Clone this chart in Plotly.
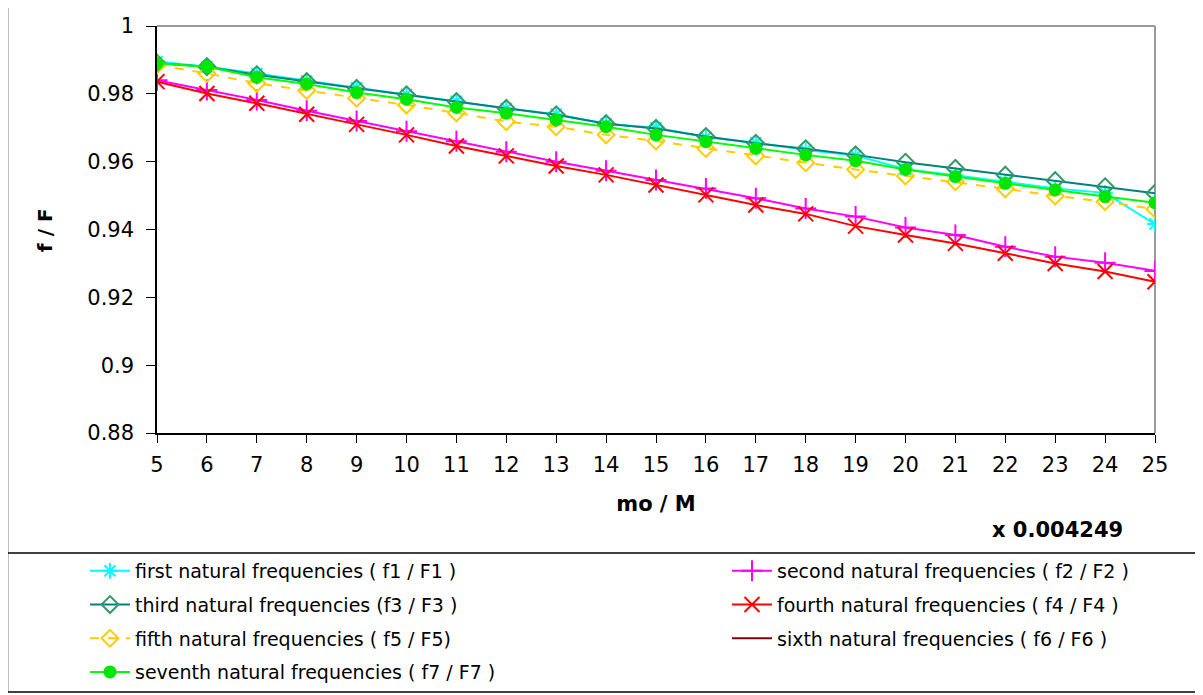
import plotly.graph_objects as go

# ─── Dados ────────────────────────────────────────────
mo_m = list(range(5, 26))

f1 = [0.9895, 0.9880, 0.9860, 0.9838, 0.9818, 0.9798, 0.9778, 0.9757, 0.9740, 0.9712, 0.9700,
      0.9672, 0.9656, 0.9634, 0.9618, 0.9578, 0.9560, 0.9541, 0.9521, 0.9508, 0.9416]
f2 = [0.9840, 0.9811, 0.9782, 0.9750, 0.9720, 0.9690, 0.9660, 0.9629, 0.9600, 0.9573, 0.9546,
      0.9521, 0.9492, 0.9462, 0.9438, 0.9406, 0.9384, 0.9349, 0.9320, 0.9302, 0.9278]
f3 = [0.9890, 0.9880, 0.9856, 0.9836, 0.9816, 0.9797, 0.9777, 0.9757, 0.9738, 0.9712, 0.9698,
      0.9674, 0.9654, 0.9638, 0.9620, 0.9598, 0.9580, 0.9560, 0.9544, 0.9526, 0.9507]
f4 = [0.9836, 0.9801, 0.9772, 0.9740, 0.9710, 0.9679, 0.9646, 0.9617, 0.9587, 0.9561, 0.9531,
      0.9502, 0.9472, 0.9446, 0.9410, 0.9384, 0.9359, 0.9330, 0.9300, 0.9276, 0.9246]
f5 = [0.9885, 0.9860, 0.9831, 0.9810, 0.9787, 0.9767, 0.9744, 0.9718, 0.9703, 0.9679, 0.9661,
      0.9639, 0.9617, 0.9597, 0.9577, 0.9558, 0.9541, 0.9520, 0.9499, 0.9482, 0.9460]
f6 = [None] * 21  # não aparece no gráfico, só na legenda
f7 = [0.9890, 0.9880, 0.9849, 0.9829, 0.9804, 0.9784, 0.9760, 0.9743, 0.9723, 0.9703, 0.9679,
      0.9659, 0.9639, 0.9620, 0.9603, 0.9577, 0.9556, 0.9536, 0.9517, 0.9497, 0.9479]

y_ticks = [0.88, 0.9, 0.92, 0.94, 0.96, 0.98, 1]

FONT = "DejaVu Sans"

# (nome, dados, cor linha, dash, símbolo, cor marcador, tamanho, legenda)
series = [
    ("first natural frequencies ( f1 / F1 )", f1, "#00FFFF", "solid", "asterisk-open", "#00FFFF", 13, "legend"),
    ("second natural frequencies ( f2 / F2 )", f2, "#FF00FF", "solid", "cross-thin-open", "#FF00FF", 15, "legend2"),
    ("third natural frequencies (f3 / F3 )", f3, "#008080", "solid", "diamond-open", "#339966", 13, "legend"),
    ("fourth natural frequencies ( f4 / F4 )", f4, "#FF0000", "solid", "x-thin-open", "#FF0000", 15, "legend2"),
    ("fifth natural frequencies ( f5 / F5)", f5, "#FFCC00", "dash", "diamond-open", "#FFCC00", 13, "legend"),
    ("sixth natural frequencies ( f6 / F6 )", f6, "#800000", "solid", None, "#800000", 1, "legend2"),
    ("seventh natural frequencies ( f7 / F7 )", f7, "#00FF00", "solid", "circle", "#00E600", 13, "legend"),
]

fig = go.Figure()
for i, (nome, ys, cor, dash, simb, cor_m, tam, leg) in enumerate(series):
    xs = mo_m[: len(ys)]
    if simb is None:
        fig.add_trace(go.Scatter(
            x=xs, y=ys, mode="lines", name=nome, legend=leg, legendgroup=f"g{i}",
            line=dict(color=cor, width=2, dash=dash),
        ))
        continue
    aberto = simb.endswith("open")
    fig.add_trace(go.Scatter(
        x=xs, y=ys, mode="lines+markers", name=nome, legend=leg, legendgroup=f"g{i}",
        line=dict(color=cor, width=2, dash=dash),
        marker=dict(symbol=simb, size=tam, color=cor_m,
                    line=dict(color=cor_m, width=2 if aberto else 0)),
    ))

# A página tem margem de 8 px; a figura ocupa o resto da janela
OFF = 8
FW, FH = 1203 - OFF, 695 - OFF
# área do gráfico em pixels da figura
L, T, W, H = 157 - OFF, 26 - OFF, 998, 407


def px(x):  # x da tela -> paper
    return (x - OFF - L) / W


def py(y):  # y da tela -> paper
    return (T + H - (y - OFF)) / H


def cx(x):  # x da tela -> container
    return (x - OFF) / FW


def cy(y):  # y da tela -> container
    return 1 - (y - OFF) / FH


linha = dict(color="black", width=1.5)
shapes = [
    dict(type="line", xref="paper", yref="paper", x0=px(7.5), x1=px(7.5), y0=py(6), y1=py(692), line=linha),
    dict(type="line", xref="paper", yref="paper", x0=px(1199.5), x1=px(1199.5), y0=py(6), y1=py(692), line=linha),
    dict(type="line", xref="paper", yref="paper", x0=px(7), x1=px(1203), y0=py(553), y1=py(553), line=linha),
    dict(type="line", xref="paper", yref="paper", x0=px(7), x1=px(1200), y0=py(692), y1=py(692), line=linha),
    dict(type="line", xref="paper", yref="paper", x0=0, x1=1, y0=1, y1=1, layer="below",
         line=dict(color="#999999", width=2)),
    dict(type="line", xref="paper", yref="paper", x0=1, x1=1, y0=0, y1=1, layer="below",
         line=dict(color="#999999", width=2)),
]

leg_base = dict(
    xref="container", yref="container", xanchor="left", yanchor="top",
    bgcolor="rgba(0,0,0,0)", font=dict(family=FONT, size=19, color="black"),
    orientation="v", tracegroupgap=6, itemwidth=40,
)

fig.update_layout(
    width=FW,
    height=FH,
    margin=dict(l=L, r=FW - L - W, t=T, b=FH - T - H, autoexpand=False),
    paper_bgcolor="white",
    plot_bgcolor="white",
    font=dict(family=FONT, color="black"),
    showlegend=True,
    legend=dict(leg_base, x=cx(85), y=cy(552)),
    legend2=dict(leg_base, x=cx(727), y=cy(552)),
    shapes=shapes,
    annotations=[
        dict(
            text="<b>x 0.004249</b>", xref="paper", yref="paper",
            x=px(1125), y=py(530), xanchor="right", yanchor="middle", showarrow=False,
            font=dict(family=FONT, size=21, color="black"),
        ),
        dict(
            text="<b>f / F</b>", xref="paper", yref="paper", textangle=-90,
            x=px(45), y=py(230), xanchor="center", yanchor="middle", showarrow=False,
            font=dict(family=FONT, size=20, color="black"),
        ),
    ],
    xaxis=dict(
        range=[5, 25], tickmode="linear", tick0=5, dtick=1,
        showline=True, linecolor="black", linewidth=1.5, showgrid=False, zeroline=False,
        ticks="outside", ticklen=8, tickcolor="black", tickwidth=1,
        tickfont=dict(family=FONT, size=21), ticklabelstandoff=4,
        title=dict(text="<b>mo / M</b>", font=dict(family=FONT, size=21), standoff=20),
    ),
    yaxis=dict(
        range=[0.88, 1], tickvals=y_ticks, ticktext=[f"{v:g}" for v in y_ticks],
        showline=True, linecolor="black", linewidth=1.5, showgrid=False, zeroline=False,
        ticks="outside", ticklen=9, tickcolor="black", tickwidth=1,
        tickfont=dict(family=FONT, size=21), ticklabelstandoff=8,
    ),
    # eixos sobrepostos só para desenhar a parte interna dos ticks (cruz)
    xaxis2=dict(
        overlaying="x", anchor="y", side="bottom", range=[5, 25], tickmode="linear",
        tick0=5, dtick=1, ticks="inside", ticklen=7, tickcolor="black", tickwidth=1,
        showticklabels=False, showline=False, showgrid=False, zeroline=False,
    ),
    yaxis2=dict(
        overlaying="y", anchor="x", side="left", range=[0.88, 1], tickvals=y_ticks,
        ticks="inside", ticklen=9, tickcolor="black", tickwidth=1,
        showticklabels=False, showline=False, showgrid=False, zeroline=False,
    ),
)

fig.write_html("out.html")
